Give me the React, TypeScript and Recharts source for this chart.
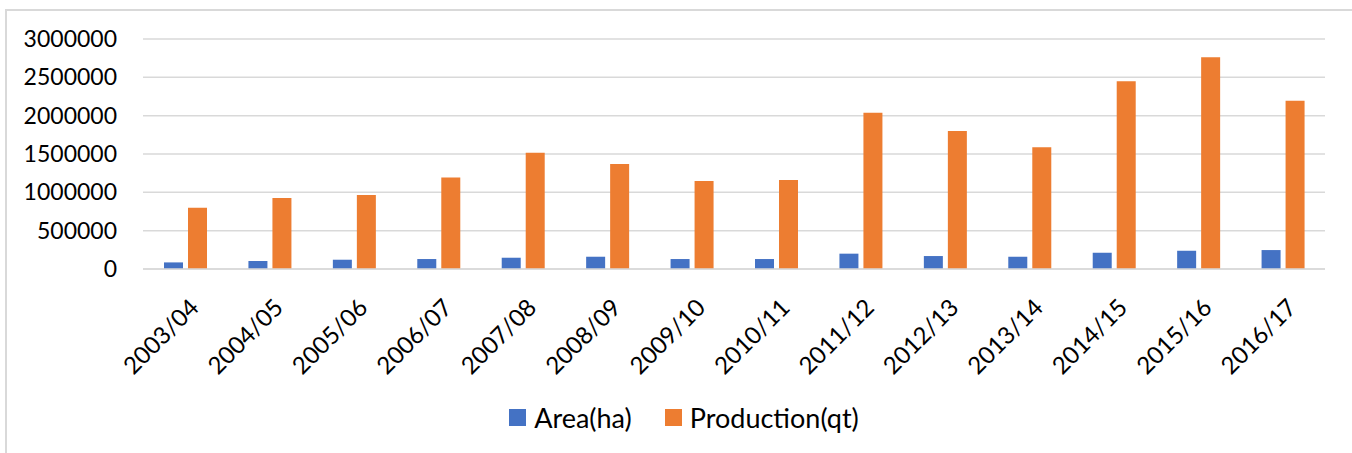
import { BarChart, Bar, XAxis, YAxis, CartesianGrid, Legend } from 'recharts';

const categories = [
    '2003/04', '2004/05', '2005/06', '2006/07', '2007/08', '2008/09', '2009/10',
    '2010/11', '2011/12', '2012/13', '2013/14', '2014/15', '2015/16', '2016/17',
];
const areaHa = [86000, 104000, 121000, 130000, 147000, 160000, 130000, 130000, 200000, 169000, 160000, 212000, 238000, 247000];
const productionQt = [800000, 926000, 965000, 1195000, 1517000, 1369000, 1148000, 1161000, 2039000, 1800000, 1587000, 2448000, 2761000, 2195000];
const yTicks = [0, 500000, 1000000, 1500000, 2000000, 2500000, 3000000];

const data = categories.map((season, i) => ({
    season,
    area: areaHa[i],
    production: productionQt[i],
}));

const FONT = 'Lato, "Open Sans", sans-serif';
const BLUE = '#4472C4';
const ORANGE = '#ED7D31';
const GRID = '#d9d9d9';

const XTick = ({ x, y, payload }: any) => {
    const tx = x + 3;
    return (
        <text
            x={tx}
            y={y}
            dy="0.71em"
            textAnchor="end"
            transform={`rotate(-45 ${tx} ${y})`}
            fontFamily={FONT}
            fontSize={24}
            fill="#000"
        >
            {payload.value}
        </text>
    );
};

const LegendContent = () => {
    const items = [
        { label: 'Area(ha)', color: BLUE },
        { label: 'Production(qt)', color: ORANGE },
    ];
    return (
        <div style={{ display: 'flex', justifyContent: 'center', alignItems: 'center', height: 40, paddingLeft: 16, fontFamily: FONT, fontSize: 27, color: '#000' }}>
            {items.map((it, i) => (
                <div key={it.label} style={{ display: 'flex', alignItems: 'center', marginLeft: i === 0 ? 0 : 33 }}>
                    <span style={{ width: 17, height: 17, background: it.color, display: 'inline-block', marginRight: 8 }} />
                    <span>{it.label}</span>
                </div>
            ))}
        </div>
    );
};

export default function App() {
    return (
        <div style={{ position: 'absolute', left: 0, top: 0, width: 1352, height: 453, overflow: 'hidden', background: '#fff' }}>
            <div style={{ position: 'absolute', left: 5, top: 9, width: 1400, height: 500, border: `2px solid ${GRID}` }} />
            <BarChart
                width={1352}
                height={453}
                data={data}
                margin={{ top: 39, right: 27, left: 0, bottom: 24 }}
                barGap={5}
                barSize={19}
            >
                <CartesianGrid vertical={false} stroke={GRID} strokeWidth={1.5} />
                <XAxis
                    dataKey="season"
                    height={120}
                    interval={0}
                    tickLine={false}
                    tickSize={0}
                    tickMargin={28}
                    axisLine={{ stroke: GRID, strokeWidth: 1.5 }}
                    tick={<XTick />}
                />
                <YAxis
                    width={143}
                    domain={[0, 3000000]}
                    ticks={yTicks}
                    interval={0}
                    axisLine={false}
                    tickLine={false}
                    tickSize={0}
                    tickMargin={26}
                    tick={{ fontFamily: FONT, fontSize: 23, fill: '#000' }}
                />
                <Legend
                    verticalAlign="bottom"
                    height={40}
                    content={<LegendContent />}
                    wrapperStyle={{ left: 0, width: 1352, bottom: 16 }}
                />
                <Bar dataKey="area" name="Area(ha)" fill={BLUE} isAnimationActive={false} />
                <Bar dataKey="production" name="Production(qt)" fill={ORANGE} isAnimationActive={false} />
            </BarChart>
        </div>
    );
}
